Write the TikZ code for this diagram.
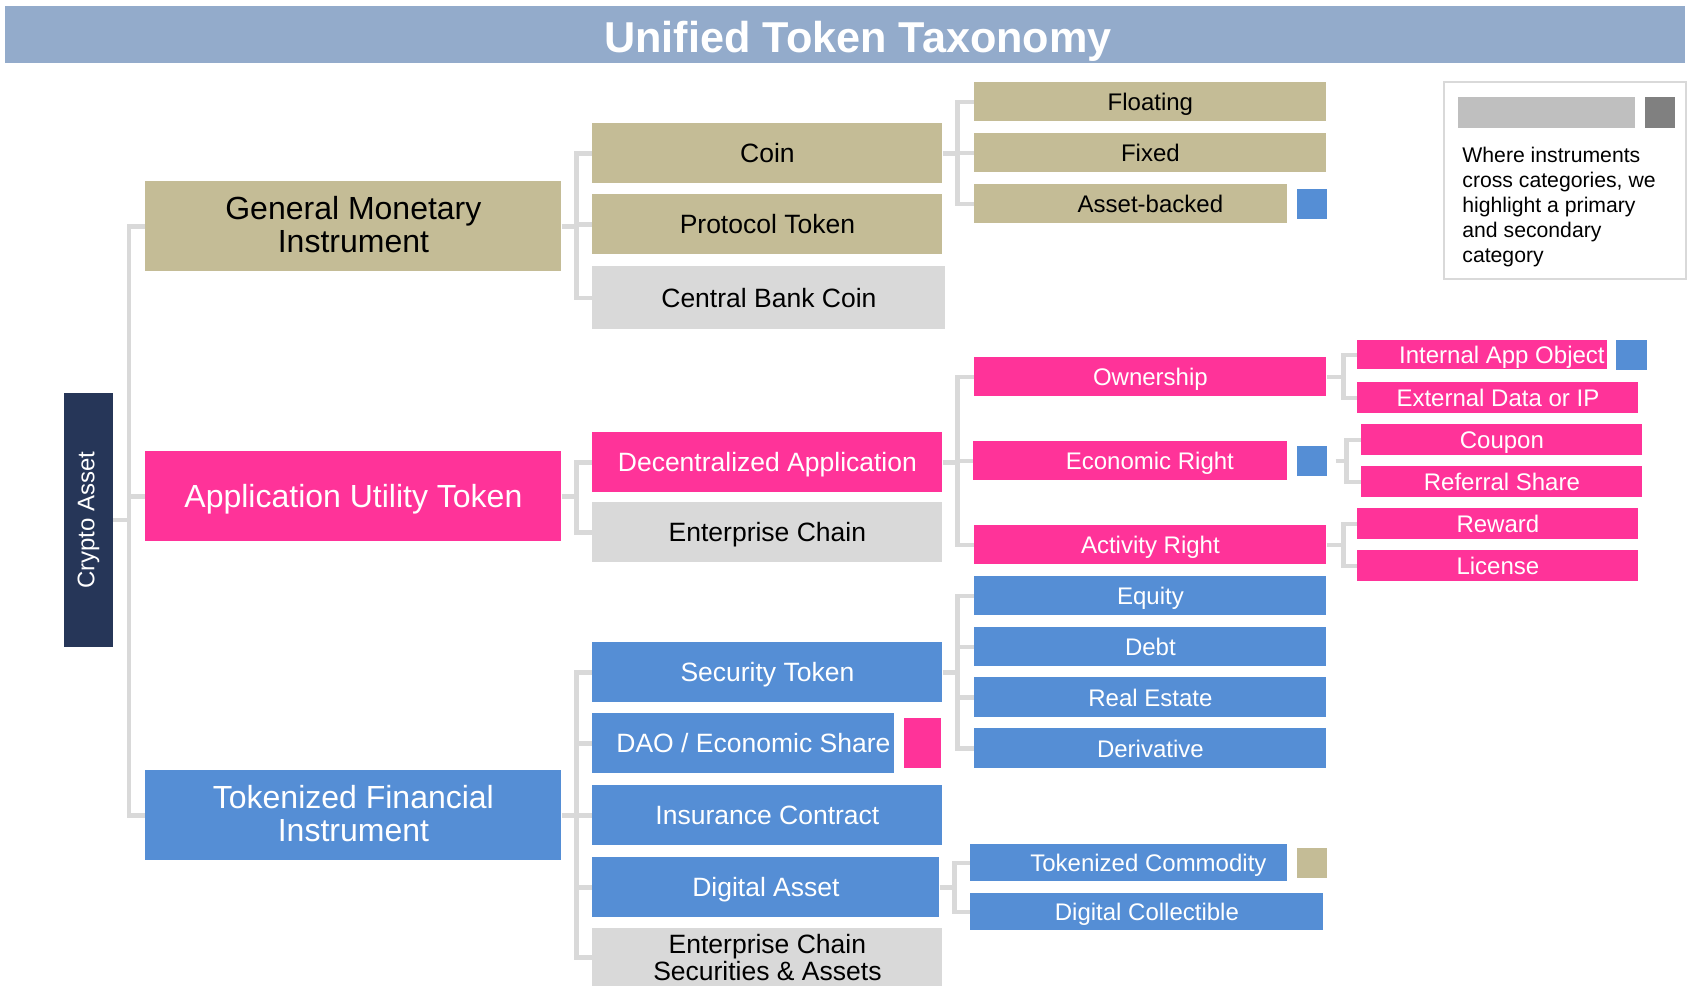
\documentclass[tikz,border=0pt]{standalone}
\usepackage{fontspec}
\setmainfont{Liberation Sans}
\usepackage{xcolor}
\usetikzlibrary{positioning}

\definecolor{headerblue}{RGB}{147,171,203}
\definecolor{monetary}{RGB}{196,188,150}
\definecolor{utility}{RGB}{255,51,153}
\definecolor{financial}{RGB}{85,142,213}
\definecolor{private}{RGB}{217,217,217}
\definecolor{rootnavy}{RGB}{38,54,88}
\definecolor{linkgrey}{RGB}{217,217,217}

\tikzset{
    cell/.style={inner sep=0pt, align=center, anchor=north west},
    topcat/.style={cell, font=\fontsize{16}{16.5}\selectfont, minimum width=208pt, minimum height=45pt, execute at end node={\rule[-2.5pt]{0pt}{0pt}}},
    subcat/.style={cell, font=\fontsize{13.25}{13.5}\selectfont, minimum width=175pt, minimum height=30pt, text height=9.5pt, text depth=0pt},
    kind/.style={cell, font=\fontsize{12}{14}\selectfont, minimum width=176pt, minimum height=19.5pt, text height=8.6pt, text depth=0pt},
    subkind/.style={cell, font=\fontsize{12}{14}\selectfont, minimum width=140.5pt, minimum height=15.5pt, text height=8.6pt, text depth=0pt, fill=utility, text=white},
    money/.style={fill=monetary},
    util/.style={fill=utility, text=white},
    fin/.style={fill=financial, text=white},
    priv/.style={fill=private},
    tag/.style={inner sep=0pt, minimum width=15pt, minimum height=15pt},
    tagged/.style={execute at begin node={\hspace*{#1}}},
    tagged/.default=19.5pt,
    link/.style={draw=linkgrey, line width=2.4pt}
}

\begin{document}
\begin{tikzpicture}[x=0.5pt, y=-0.5pt]
        \path[use as bounding box, fill=white] (0,0) rectangle (1692,986);

        \node[cell, fill=headerblue, minimum width=840pt, minimum height=28.5pt] (banner) at (5,6) {};
        \node[font=\fontsize{21.6}{25}\selectfont\bfseries, text=white, inner sep=0pt] (title) at (858,41) {Unified Token Taxonomy};

        \node[fill=rootnavy, text=white, inner sep=0pt, minimum width=24.5pt, minimum height=127pt, font=\fontsize{12}{14}\selectfont] (crypto) at (88.5,520) {\rotatebox{90}{Crypto Asset}};

        \node[topcat, money] (gmi) at (145,181) {General Monetary\\Instrument};
        \node[topcat, util, text height=11.5pt, text depth=0pt] (aut) at (145,451) {Application Utility Token};
        \node[topcat, fin] (tfi) at (145,770) {Tokenized Financial\\Instrument};

        \node[subcat, money] (coin) at (592,123) {Coin};
        \node[subcat, money] (ptok) at (592,194) {Protocol Token};
        \node[subcat, priv, minimum width=176.5pt, minimum height=31.5pt] (cbc) at (592,266) {Central Bank Coin};
        \node[subcat, util] (dapp) at (592,432) {Decentralized Application};
        \node[subcat, priv] (ent) at (592,502) {Enterprise Chain};
        \node[subcat, fin] (sec) at (592,642) {Security Token};
        \node[subcat, fin, minimum width=151pt, tagged=10pt] (dao) at (592,713) {DAO / Economic Share};
        \node[tag, fill=utility, minimum width=18.5pt, minimum height=25pt, right=4.5pt of dao] (daotag) {};
        \node[subcat, fin] (ins) at (592,785) {Insurance Contract};
        \node[subcat, fin, minimum width=173.5pt] (dig) at (592,857) {Digital Asset};
        \node[cell, priv, font=\fontsize{13.25}{13.5}\selectfont, minimum width=175pt, minimum height=29pt] (ecsa) at (592,928) {Enterprise Chain\\Securities \& Assets};

        \node[kind, money] (float) at (974,82) {Floating};
        \node[kind, money] (fixed) at (974,133) {Fixed};
        \node[kind, money, minimum width=156.5pt, tagged] (abk) at (974,184) {Asset-backed};
        \node[tag, fill=financial, right=4.5pt of abk] (abktag) {};
        \node[kind, util] (own) at (974,357) {Ownership};
        \node[kind, util, minimum width=157pt, tagged] (econ) at (973,441) {Economic Right};
        \node[tag, fill=financial, right=4.5pt of econ] (econtag) {};
        \node[kind, util] (act) at (974,525) {Activity Right};
        \node[kind, fin] (eq) at (974,576) {Equity};
        \node[kind, fin] (debt) at (974,627) {Debt};
        \node[kind, fin, minimum height=20pt] (estate) at (974,677) {Real Estate};
        \node[kind, fin, minimum height=20pt] (deriv) at (974,728) {Derivative};
        \node[kind, fin, minimum width=158.5pt, minimum height=18.5pt, tagged] (comm) at (970,844) {Tokenized Commodity};
        \node[tag, fill=monetary, right=4.5pt of comm] (commtag) {};
        \node[kind, fin, minimum width=176.5pt, minimum height=18.5pt] (coll) at (970,893) {Digital Collectible};

        \node[subkind, minimum width=125pt, minimum height=14.5pt, tagged] (iao) at (1357,340) {Internal App Object};
        \node[tag, fill=financial, minimum width=15.5pt, right=4pt of iao] (iaotag) {};
        \node[subkind] (ext) at (1357,382) {External Data or IP};
        \node[subkind] (coup) at (1361,424) {Coupon};
        \node[subkind] (ref) at (1361,466) {Referral Share};
        \node[subkind] (rew) at (1357,508) {Reward};
        \node[subkind] (lic) at (1357,550) {License};

        \node[cell, draw=linkgrey, line width=1pt, minimum width=121pt, minimum height=98.5pt] (legend) at (1443,81) {};
        \node[cell, fill=black!25, minimum width=88.5pt, minimum height=15.5pt] (keybar) at (1458,97) {};
        \node[tag, fill=black!50, minimum height=15.5pt, right=4.5pt of keybar] (keytag) {};
        \node[cell, align=left, font=\fontsize{10.6}{12.5}\selectfont] (keytext) at (1462,147) {Where instruments\\cross categories, we\\highlight a primary\\and secondary\\category};

        \draw[link] (crypto.east) -- ++(15.5,0) coordinate (rootj) |- (gmi.west) (rootj) |- (aut.west) (rootj) |- (tfi.west);
        \draw[link] (gmi.east) -- ++(15,0) coordinate (gmij) |- (coin.west) (gmij) |- (ptok.west) (gmij) |- (cbc.west);
        \draw[link] (aut.east) -- ++(15,0) coordinate (autj) |- (dapp.west) (autj) |- (ent.west);
        \draw[link] (tfi.east) -- ++(15,0) coordinate (tfij) |- (sec.west) (tfij) |- (dao.west) (tfij) |- (ins.west) (tfij) |- (dig.west) (tfij) |- (ecsa.west);
        \draw[link] (coin.east) -- ++(15,0) coordinate (coinj) |- (float.west) (coinj) |- (fixed.west) (coinj) |- (abk.west);
        \draw[link] (dapp.east) -- ++(15,0) coordinate (dappj) |- (own.west) (dappj) |- (econ.west) (dappj) |- (act.west);
        \draw[link] (sec.east) -- ++(15,0) coordinate (secj) |- (eq.west) (secj) |- (debt.west) (secj) |- (estate.west) (secj) |- (deriv.west);
        \draw[link] (dig.east) -- ++(15,0) coordinate (digj) |- (comm.west) (digj) |- (coll.west);
        \draw[link] (own.east) -- ++(17,0) coordinate (ownj) |- (iao.west) (ownj) |- (ext.west);
        \draw[link] (econtag.east) ++(8,0) -- ++(11,0) coordinate (econj) |- (coup.west) (econj) |- (ref.west);
        \draw[link] (act.east) -- ++(17,0) coordinate (actj) |- (rew.west) (actj) |- (lic.west);
    \end{tikzpicture}
\end{document}
